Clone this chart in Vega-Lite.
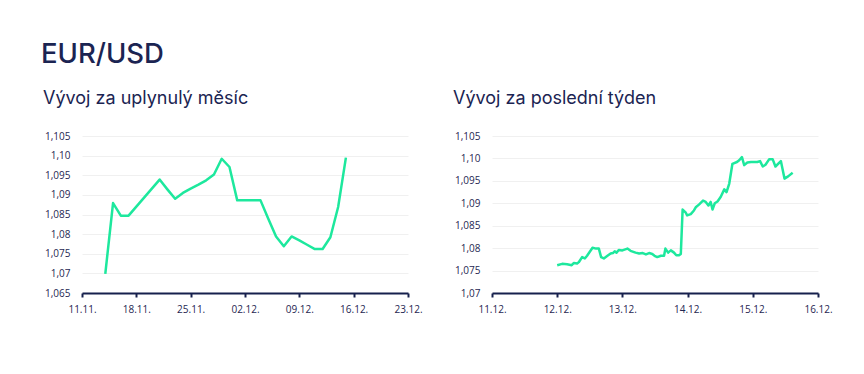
{
  "$schema": "https://vega.github.io/schema/vega-lite/v6.json",
  "background": "white",
  "padding": {"left": 41, "top": 40, "right": 10, "bottom": 5},
  "title": {"text": "EUR/USD", "anchor": "start", "fontSize": 27.5, "font": "Inter", "fontWeight": 500, "color": "#1b2452", "offset": 22, "dx": -41, "frame": "group"},
  "datasets": {
    "month": [
      {"date": "2023-11-14", "rate": 1.0699},
      {"date": "2023-11-15", "rate": 1.0879},
      {"date": "2023-11-16", "rate": 1.0847},
      {"date": "2023-11-17", "rate": 1.0847},
      {"date": "2023-11-18", "rate": 1.0870},
      {"date": "2023-11-19", "rate": 1.0893},
      {"date": "2023-11-20", "rate": 1.0916},
      {"date": "2023-11-21", "rate": 1.0939},
      {"date": "2023-11-22", "rate": 1.0914},
      {"date": "2023-11-23", "rate": 1.0890},
      {"date": "2023-11-24", "rate": 1.0905},
      {"date": "2023-11-25", "rate": 1.0916},
      {"date": "2023-11-26", "rate": 1.0926},
      {"date": "2023-11-27", "rate": 1.0937},
      {"date": "2023-11-28", "rate": 1.0952},
      {"date": "2023-11-29", "rate": 1.0992},
      {"date": "2023-11-30", "rate": 1.0971},
      {"date": "2023-12-01", "rate": 1.0886},
      {"date": "2023-12-02", "rate": 1.0886},
      {"date": "2023-12-03", "rate": 1.0886},
      {"date": "2023-12-04", "rate": 1.0886},
      {"date": "2023-12-05", "rate": 1.0839},
      {"date": "2023-12-06", "rate": 1.0794},
      {"date": "2023-12-07", "rate": 1.0769},
      {"date": "2023-12-08", "rate": 1.0794},
      {"date": "2023-12-09", "rate": 1.0784},
      {"date": "2023-12-10", "rate": 1.0773},
      {"date": "2023-12-11", "rate": 1.0762},
      {"date": "2023-12-12", "rate": 1.0762},
      {"date": "2023-12-13", "rate": 1.0792},
      {"date": "2023-12-14", "rate": 1.0869},
      {"date": "2023-12-15", "rate": 1.0995}
    ],
    "week": [
      {"date": "2023-12-12T00:00Z", "rate": 1.0762},
      {"date": "2023-12-12T01:50Z", "rate": 1.0765},
      {"date": "2023-12-12T03:40Z", "rate": 1.0764},
      {"date": "2023-12-12T05:20Z", "rate": 1.0762},
      {"date": "2023-12-12T06:10Z", "rate": 1.0767},
      {"date": "2023-12-12T07:20Z", "rate": 1.0766},
      {"date": "2023-12-12T08:00Z", "rate": 1.0769},
      {"date": "2023-12-12T09:10Z", "rate": 1.0780},
      {"date": "2023-12-12T10:10Z", "rate": 1.0777},
      {"date": "2023-12-12T11:00Z", "rate": 1.0783},
      {"date": "2023-12-12T13:00Z", "rate": 1.0801},
      {"date": "2023-12-12T14:20Z", "rate": 1.0799},
      {"date": "2023-12-12T15:20Z", "rate": 1.0799},
      {"date": "2023-12-12T16:10Z", "rate": 1.0780},
      {"date": "2023-12-12T17:10Z", "rate": 1.0777},
      {"date": "2023-12-12T18:30Z", "rate": 1.0783},
      {"date": "2023-12-12T19:40Z", "rate": 1.0788},
      {"date": "2023-12-12T20:30Z", "rate": 1.0789},
      {"date": "2023-12-12T21:10Z", "rate": 1.0793},
      {"date": "2023-12-12T21:50Z", "rate": 1.0790},
      {"date": "2023-12-12T22:40Z", "rate": 1.0796},
      {"date": "2023-12-13T00:00Z", "rate": 1.0795},
      {"date": "2023-12-13T01:50Z", "rate": 1.0799},
      {"date": "2023-12-13T03:00Z", "rate": 1.0794},
      {"date": "2023-12-13T04:50Z", "rate": 1.0790},
      {"date": "2023-12-13T06:10Z", "rate": 1.0788},
      {"date": "2023-12-13T07:30Z", "rate": 1.0789},
      {"date": "2023-12-13T08:40Z", "rate": 1.0786},
      {"date": "2023-12-13T09:50Z", "rate": 1.0789},
      {"date": "2023-12-13T11:00Z", "rate": 1.0787},
      {"date": "2023-12-13T11:50Z", "rate": 1.0783},
      {"date": "2023-12-13T12:50Z", "rate": 1.0780},
      {"date": "2023-12-13T14:10Z", "rate": 1.0783},
      {"date": "2023-12-13T15:20Z", "rate": 1.0783},
      {"date": "2023-12-13T15:50Z", "rate": 1.0799},
      {"date": "2023-12-13T16:50Z", "rate": 1.0790},
      {"date": "2023-12-13T17:50Z", "rate": 1.0795},
      {"date": "2023-12-13T19:00Z", "rate": 1.0790},
      {"date": "2023-12-13T19:50Z", "rate": 1.0784},
      {"date": "2023-12-13T20:50Z", "rate": 1.0784},
      {"date": "2023-12-13T21:30Z", "rate": 1.0787},
      {"date": "2023-12-13T22:10Z", "rate": 1.0886},
      {"date": "2023-12-13T23:20Z", "rate": 1.0879},
      {"date": "2023-12-13T23:50Z", "rate": 1.0873},
      {"date": "2023-12-14T01:10Z", "rate": 1.0876},
      {"date": "2023-12-14T02:20Z", "rate": 1.0884},
      {"date": "2023-12-14T03:00Z", "rate": 1.0891},
      {"date": "2023-12-14T04:10Z", "rate": 1.0897},
      {"date": "2023-12-14T05:40Z", "rate": 1.0906},
      {"date": "2023-12-14T06:40Z", "rate": 1.0903},
      {"date": "2023-12-14T07:40Z", "rate": 1.0895},
      {"date": "2023-12-14T08:30Z", "rate": 1.0903},
      {"date": "2023-12-14T09:10Z", "rate": 1.0886},
      {"date": "2023-12-14T10:00Z", "rate": 1.0900},
      {"date": "2023-12-14T11:00Z", "rate": 1.0904},
      {"date": "2023-12-14T12:10Z", "rate": 1.0914},
      {"date": "2023-12-14T13:30Z", "rate": 1.0931},
      {"date": "2023-12-14T14:20Z", "rate": 1.0925},
      {"date": "2023-12-14T15:20Z", "rate": 1.0944},
      {"date": "2023-12-14T16:30Z", "rate": 1.0988},
      {"date": "2023-12-14T18:10Z", "rate": 1.0992},
      {"date": "2023-12-14T19:00Z", "rate": 1.0996},
      {"date": "2023-12-14T20:00Z", "rate": 1.1003},
      {"date": "2023-12-14T20:50Z", "rate": 1.0985},
      {"date": "2023-12-14T22:00Z", "rate": 1.0991},
      {"date": "2023-12-14T23:20Z", "rate": 1.0992},
      {"date": "2023-12-15T01:40Z", "rate": 1.0992},
      {"date": "2023-12-15T02:40Z", "rate": 1.0994},
      {"date": "2023-12-15T03:40Z", "rate": 1.0982},
      {"date": "2023-12-15T04:40Z", "rate": 1.0986},
      {"date": "2023-12-15T06:00Z", "rate": 1.0998},
      {"date": "2023-12-15T07:20Z", "rate": 1.0998},
      {"date": "2023-12-15T08:20Z", "rate": 1.0982},
      {"date": "2023-12-15T10:20Z", "rate": 1.0994},
      {"date": "2023-12-15T11:40Z", "rate": 1.0955},
      {"date": "2023-12-15T13:00Z", "rate": 1.0960},
      {"date": "2023-12-15T14:40Z", "rate": 1.0968}
    ]
  },
  "spacing": 84,
  "bounds": "flush",
  "hconcat": [
    {
      "width": 326,
      "height": 157,
      "title": {"text": "Vývoj za uplynulý měsíc", "anchor": "start", "dx": -39, "offset": 23, "frame": "group"},
      "data": {"name": "month"},
      "mark": {"type": "line", "color": "#1de89d", "strokeWidth": 2.5, "strokeJoin": "round"},
      "encoding": {
        "x": {
          "field": "date", "type": "temporal",
          "scale": {"type": "utc", "domain": [{"year": 2023, "month": 11, "date": 11, "utc": true}, {"year": 2023, "month": 12, "date": 23, "utc": true}]},
          "axis": {
            "title": null,
            "values": [
              {"year": 2023, "month": 11, "date": 11, "utc": true},
              {"year": 2023, "month": 11, "date": 18, "utc": true},
              {"year": 2023, "month": 11, "date": 25, "utc": true},
              {"year": 2023, "month": 12, "date": 2, "utc": true},
              {"year": 2023, "month": 12, "date": 9, "utc": true},
              {"year": 2023, "month": 12, "date": 16, "utc": true},
              {"year": 2023, "month": 12, "date": 23, "utc": true}
            ],
            "labelExpr": "utcFormat(datum.value, '%d.%m.')"
          }
        },
        "y": {
          "field": "rate", "type": "quantitative",
          "scale": {"domain": [1.065, 1.105], "zero": false, "nice": false},
          "axis": {
            "title": null,
            "values": [1.065, 1.07, 1.075, 1.08, 1.085, 1.09, 1.095, 1.1, 1.105],
            "labelExpr": "replace(slice(format(datum.value,'.3f'),-1)=='0' ? slice(format(datum.value,'.3f'),0,-1) : format(datum.value,'.3f'), '.', ',')"
          }
        }
      }
    },
    {
      "width": 326,
      "height": 157,
      "title": {"text": "Vývoj za poslední týden", "anchor": "start", "dx": -39, "offset": 23, "frame": "group"},
      "data": {"name": "week"},
      "mark": {"type": "line", "color": "#1de89d", "strokeWidth": 2.5, "strokeJoin": "round"},
      "encoding": {
        "x": {
          "field": "date", "type": "temporal",
          "scale": {"type": "utc", "domain": [{"year": 2023, "month": 12, "date": 11, "utc": true}, {"year": 2023, "month": 12, "date": 16, "utc": true}]},
          "axis": {
            "title": null,
            "values": [
              {"year": 2023, "month": 12, "date": 11, "utc": true},
              {"year": 2023, "month": 12, "date": 12, "utc": true},
              {"year": 2023, "month": 12, "date": 13, "utc": true},
              {"year": 2023, "month": 12, "date": 14, "utc": true},
              {"year": 2023, "month": 12, "date": 15, "utc": true},
              {"year": 2023, "month": 12, "date": 16, "utc": true}
            ],
            "labelExpr": "utcFormat(datum.value, '%d.%m.')"
          }
        },
        "y": {
          "field": "rate", "type": "quantitative",
          "scale": {"domain": [1.07, 1.105], "zero": false, "nice": false},
          "axis": {
            "title": null,
            "values": [1.07, 1.075, 1.08, 1.085, 1.09, 1.095, 1.1, 1.105],
            "labelExpr": "replace(slice(format(datum.value,'.3f'),-1)=='0' ? slice(format(datum.value,'.3f'),0,-1) : format(datum.value,'.3f'), '.', ',')"
          }
        }
      }
    }
  ],
  "config": {
    "view": {"stroke": null},
    "title": {"font": "Inter", "fontSize": 18, "fontWeight": 400, "color": "#1b2452"},
    "axis": {"labelFont": "Open Sans", "labelFontSize": 10, "labelColor": "#1f2752"},
    "axisY": {"domain": false, "ticks": false, "grid": true, "gridColor": "#f0f0f0", "gridWidth": 1, "labelPadding": 12},
    "axisX": {"grid": false, "domainColor": "#16204d", "domainWidth": 2, "tickColor": "#16204d", "tickWidth": 2, "tickSize": 4, "labelPadding": 7, "labelFlush": false}
  }
}
